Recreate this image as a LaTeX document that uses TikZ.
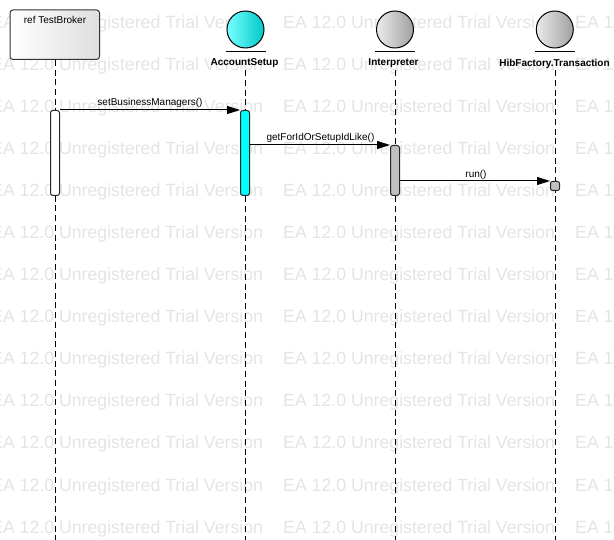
\documentclass[tikz,border=0pt]{standalone}
\usepackage{fontspec}
\setmainfont{Liberation Sans}
\usetikzlibrary{arrows.meta}
\definecolor{aqua}{RGB}{0,255,255}
\definecolor{aqualight}{RGB}{120,255,255}
\definecolor{aquadark}{RGB}{0,200,200}
\definecolor{wmgray}{RGB}{228,228,228}
\definecolor{actgray}{RGB}{192,192,192}
\definecolor{icongraylight}{RGB}{235,235,235}
\definecolor{icongraydark}{RGB}{160,160,160}
\definecolor{refgray}{RGB}{222,222,222}
\begin{document}
\begin{tikzpicture}[x=1pt,y=-1pt,
  wm/.style={text=wmgray, font=\fontsize{17.7}{18}\selectfont, anchor=base west, inner sep=0pt},
  lifeline/.style={draw=black, line width=1pt, dash pattern=on 6pt off 3.7pt},
  actbox/.style={draw=black!85, line width=1pt, rounded corners=2.5pt, minimum width=9pt, inner sep=0pt, anchor=north},
  msg/.style={draw=black, line width=1pt, -{Triangle[length=13pt,width=8pt]}},
  msglabel/.style={font=\fontsize{10}{12}\selectfont, inner sep=0pt},
  objlabel/.style={font=\bfseries\fontsize{10}{12}\selectfont, inner sep=0pt},
  icon/.style={circle, draw=black, line width=1pt, minimum size=37pt, inner sep=0pt},
  uline/.style={draw=black, line width=1pt},
]
\useasboundingbox (0,0) rectangle (614,540);
\clip (0,0) rectangle (614,540);
% watermark
\foreach \r in {0,...,12}{
  \foreach \c in {0,1,2}{
    \node[wm] (wm-\r-\c) at ({-9+292*\c},{29+42*\r}) {EA 12.0 Unregistered Trial Version};
  }
}
% ends of lifelines
\coordinate (tbEnd) at (55,541);
\coordinate (asEnd) at (245,541);
\coordinate (ipEnd) at (395,541);
\coordinate (hbEnd) at (555,541);
% ref box
\node[draw=black!80, line width=1pt, rounded corners=3pt, minimum width=89.5pt, minimum height=49.5pt,
      left color=white, right color=refgray, inner sep=0pt] (tbBox) at (54.75,34.75) {};
\node[msglabel] (tbText) at (55,20) {ref TestBroker};
% lifeline heads
\node[icon, left color=aqualight, right color=aquadark] (asIcon) at (245.5,29.5) {};
\draw[uline] (225.5,52) -- (265.5,52);
\node[objlabel] (asLabel) at (244.5,63.5) {AccountSetup};
\node[icon, left color=icongraylight, right color=icongraydark] (ipIcon) at (395,29.5) {};
\draw[uline] (375,52) -- (415,52);
\node[objlabel] (ipLabel) at (393.5,63.5) {Interpreter};
\node[icon, left color=icongraylight, right color=icongraydark] (hbIcon) at (554.8,29.5) {};
\draw[uline] (534.8,52) -- (574.8,52);
\node[objlabel] (hbLabel) at (554.5,63.5) {HibFactory.Transaction};
% lifelines
\draw[lifeline] (tbBox.south -| tbEnd) -- (tbEnd);
\draw[lifeline] (asLabel.south -| asEnd) ++(0,2) -- (asEnd);
\draw[lifeline] (ipLabel.south -| ipEnd) ++(0,2) -- (ipEnd);
\draw[lifeline] (hbLabel.south -| hbEnd) ++(0,2) -- (hbEnd);
% activations
\node[actbox, fill=white, minimum height=85pt] (tbAct) at (55,110) {};
\node[actbox, fill=aqua, minimum height=85pt] (asAct) at (245,110) {};
\node[actbox, fill=actgray, minimum height=50pt] (ipAct) at (395,145) {};
\node[actbox, fill=actgray, minimum height=9pt, rounded corners=2pt] (hbAct) at (555,181) {};
% messages
\draw[msg] (tbAct.north east) -- (asAct.north west);
\node[msglabel] (m1) at (150,103) {setBusinessManagers()};
\draw[msg] (asAct.east |- ipAct.north) -- (ipAct.north west);
\node[msglabel] (m2) at (320.5,138) {getForIdOrSetupIdLike()};
\draw[msg] (ipAct.east |- hbAct.north) -- (hbAct.north west);
\node[msglabel] (m3) at (476,174.5) {run()};
\end{tikzpicture}
\end{document}
